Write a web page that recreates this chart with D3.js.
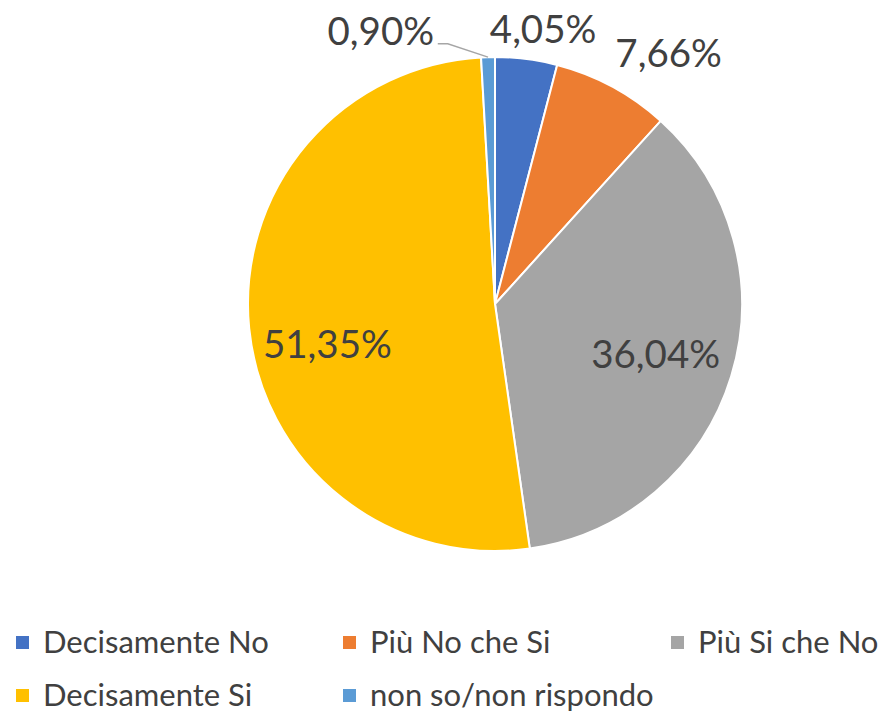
<!DOCTYPE html>
<html>
<head>
<meta charset="utf-8">
<script src="https://cdn.jsdelivr.net/npm/d3@7"></script>
<style>
  html, body { margin: 0; padding: 0; background: #fff; }
  svg text { font-family: Lato, "Open Sans", sans-serif; fill: #404040; }
</style>
</head>
<body>
<svg id="chart"></svg>
<script>
(function () {

  var width = 883, height = 713;

  // data
  var categories = ['Decisamente No', 'Più No che Si', 'Più Si che No', 'Decisamente Si', 'non so/non rispondo'];
  var values     = [4.05, 7.66, 36.04, 51.35, 0.90];
  var labels     = ['4,05%', '7,66%', '36,04%', '51,35%', '0,90%'];
  var colors     = ['#4472C4', '#ED7D31', '#A5A5A5', '#FFC000', '#5B9BD5'];

  var svg = d3.select('#chart')
    .attr('width', width)
    .attr('height', height);

  var cx = 495, cy = 304, radius = 247;

  var pie = d3.pie().sort(null).value(function (d) { return d; });
  var arcs = pie(values);

  var arc = d3.arc().innerRadius(0).outerRadius(radius);

  var g = svg.append('g').attr('transform', 'translate(' + cx + ',' + cy + ')');

  g.selectAll('path.slice')
    .data(arcs)
    .join('path')
    .attr('class', 'slice')
    .attr('d', arc)
    .attr('fill', function (d, i) { return colors[i]; })
    .attr('stroke', '#fff')
    .attr('stroke-width', 2)
    .attr('stroke-linejoin', 'round');

  // label placement (excel best fit): [angle shift in degrees, distance from centre]
  var placement = { 0: [2.6, 280], 1: [6.2, 306], 2: [0, 168], 3: [-7.3, 172], 4: [-21, 297] };

  function polar(angleDeg, dist) {
    var a = angleDeg * Math.PI / 180;
    return [Math.sin(a) * dist, -Math.cos(a) * dist];
  }

  arcs.forEach(function (d, i) {
    var mid = (d.startAngle + d.endAngle) / 2 * 180 / Math.PI;
    var p = polar(mid + placement[i][0], placement[i][1]);
    g.append('text')
      .attr('x', p[0])
      .attr('y', p[1])
      .attr('text-anchor', 'middle')
      .attr('dominant-baseline', 'central')
      .style('font-size', '38.5px')
      .text(labels[i]);

    // leader line for the tiny slice
    if (i === 4) {
      var edge = polar(mid, radius);
      var start = [p[0] + 57, p[1] + 14];
      g.append('polyline')
        .attr('points', [start, [start[0] + 10, start[1]], edge].map(function (q) { return q.join(','); }).join(' '))
        .attr('fill', 'none')
        .attr('stroke', '#A6A6A6')
        .attr('stroke-width', 1.5);
    }
  });

  // legend
  var legend = svg.append('g').attr('class', 'legend');
  var colX = [16, 343, 671], rowY = [641, 694];

  var items = legend.selectAll('g.item')
    .data(categories)
    .join('g')
    .attr('class', 'item')
    .attr('transform', function (d, i) {
      return 'translate(' + colX[i % 3] + ',' + rowY[Math.floor(i / 3)] + ')';
    });

  items.append('rect')
    .attr('x', 0)
    .attr('y', -5)
    .attr('width', 13)
    .attr('height', 13)
    .attr('fill', function (d, i) { return colors[i]; });

  items.append('text')
    .attr('x', 27)
    .attr('y', 0)
    .attr('dominant-baseline', 'central')
    .style('font-size', '31px')
    .text(function (d) { return d; });

})();
</script>
</body>
</html>
